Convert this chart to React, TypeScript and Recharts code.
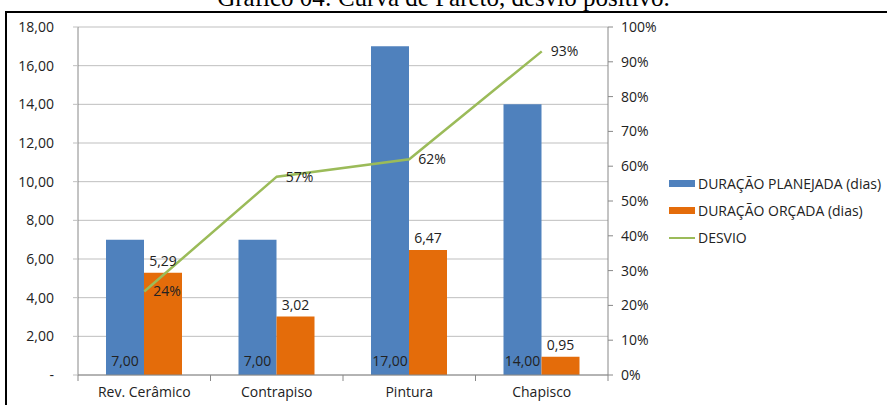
import React from "react";
import {
  ComposedChart,
  Bar,
  Line,
  XAxis,
  YAxis,
  CartesianGrid,
  Legend,
  LabelList,
} from "recharts";

const categorias = ["Rev. Cerâmico", "Contrapiso", "Pintura", "Chapisco"];
const planejada = [7, 7, 17, 14];
const orcada = [5.29, 3.02, 6.47, 0.95];
const desvio = [24, 57, 62, 93];
const ticksDias = [0, 2, 4, 6, 8, 10, 12, 14, 16, 18];
const ticksPct = [0, 10, 20, 30, 40, 50, 60, 70, 80, 90, 100];

const AZUL = "#4F81BD";
const LARANJA = "#E46C0A";
const VERDE = "#9BBB59";
const FONTE = "'Open Sans', sans-serif";
const TXT = { fontSize: 14, fill: "#222", fontFamily: FONTE };

const dados = categorias.map((c, i) => ({
  categoria: c,
  planejada: planejada[i],
  orcada: orcada[i],
  desvio: desvio[i],
}));

const fmt = (v: number) => (v === 0 ? "-" : v.toFixed(2).replace(".", ","));

const LARGURA_BANDA = 132.5;

// rótulo da categoria + marcas do eixo nas divisas entre categorias
function TickCategoria(props: any) {
  const { x, y, payload, index } = props;
  const ultimo = index === categorias.length - 1;
  return (
    <g>
      <line x1={x - LARGURA_BANDA / 2} x2={x - LARGURA_BANDA / 2} y1={y} y2={y + 6} stroke="#888" />
      {ultimo && (
        <line x1={x + LARGURA_BANDA / 2} x2={x + LARGURA_BANDA / 2} y1={y} y2={y + 6} stroke="#888" />
      )}
      <text x={x} y={y + 22} textAnchor="middle" {...TXT}>
        {payload.value}
      </text>
    </g>
  );
}

function Legenda() {
  const itens = [
    { nome: "DURAÇÃO PLANEJADA (dias)", cor: AZUL, tipo: "bar" },
    { nome: "DURAÇÃO ORÇADA (dias)", cor: LARANJA, tipo: "bar" },
    { nome: "DESVIO", cor: VERDE, tipo: "line" },
  ];
  return (
    <div style={{ fontFamily: FONTE, fontSize: 14, color: "#222", whiteSpace: "nowrap" }}>
      {itens.map((it) => (
        <div key={it.nome} style={{ display: "flex", alignItems: "center", height: 27 }}>
          <span
            style={{
              display: "inline-block",
              flexShrink: 0,
              width: 26,
              height: it.tipo === "bar" ? 7 : 2,
              background: it.cor,
              marginRight: 3,
            }}
          />
          {it.nome}
        </div>
      ))}
    </div>
  );
}

export default function App() {
  return (
    <div style={{ position: "fixed", left: 0, top: 0, width: 887, height: 405, background: "#fff", overflow: "hidden" }}>
      <div
        style={{
          position: "absolute",
          left: 0,
          width: 887,
          top: -15,
          textAlign: "center",
          fontFamily: "'Liberation Serif', serif",
          fontSize: 25,
          lineHeight: "26px",
          color: "#000",
        }}
      >
        Gráfico 04: Curva de Pareto, desvio positivo.
      </div>
      <div
        style={{
          position: "absolute",
          left: 5,
          top: 11,
          width: 900,
          height: 400,
          borderLeft: "2px solid #000",
          borderTop: "2px solid #000",
        }}
      />
      <div style={{ position: "absolute", left: 0, top: 0 }}>
        <ComposedChart
          width={887}
          height={405}
          data={dados}
          margin={{ top: 27, right: 219, bottom: 0, left: 0 }}
          barGap={0}
          barCategoryGap={28}
        >
          <CartesianGrid vertical={false} stroke="#BFBFBF" yAxisId="dias" />
          <XAxis
            dataKey="categoria"
            height={30}
            tick={<TickCategoria />}
            tickLine={false}
            tickSize={0}
            tickMargin={0}
            axisLine={{ stroke: "#888" }}
            interval={0}
          />
          <YAxis
            yAxisId="dias"
            width={78}
            domain={[0, 18]}
            ticks={ticksDias}
            tickFormatter={fmt}
            tick={TXT}
            axisLine={{ stroke: "#888" }}
            tickLine={{ stroke: "#BFBFBF" }}
            tickSize={5}
            tickMargin={19}
          />
          <YAxis
            yAxisId="pct"
            orientation="right"
            width={60}
            domain={[0, 100]}
            ticks={ticksPct}
            tickFormatter={(v) => `${v}%`}
            tick={TXT}
            axisLine={{ stroke: "#888" }}
            tickLine={{ stroke: "#888" }}
            tickSize={5}
            tickMargin={8}
          />
          <Legend
            layout="vertical"
            align="center"
            verticalAlign="middle"
            content={<Legenda />}
            wrapperStyle={{ left: 669, top: 170, width: 216 }}
          />
          <Bar yAxisId="dias" dataKey="planejada" fill={AZUL} barSize={38} isAnimationActive={false}>
            <LabelList dataKey="planejada" position="insideBottom" offset={9} formatter={fmt} style={TXT} />
          </Bar>
          <Bar yAxisId="dias" dataKey="orcada" fill={LARANJA} barSize={38} isAnimationActive={false}>
            <LabelList dataKey="orcada" position="top" offset={7} formatter={fmt} style={TXT} />
          </Bar>
          <Line
            yAxisId="pct"
            dataKey="desvio"
            stroke={VERDE}
            strokeWidth={2.5}
            dot={false}
            isAnimationActive={false}
          >
            <LabelList
              dataKey="desvio"
              position="right"
              offset={9}
              formatter={(v: number) => `${v}%`}
              style={TXT}
            />
          </Line>
        </ComposedChart>
      </div>
    </div>
  );
}
